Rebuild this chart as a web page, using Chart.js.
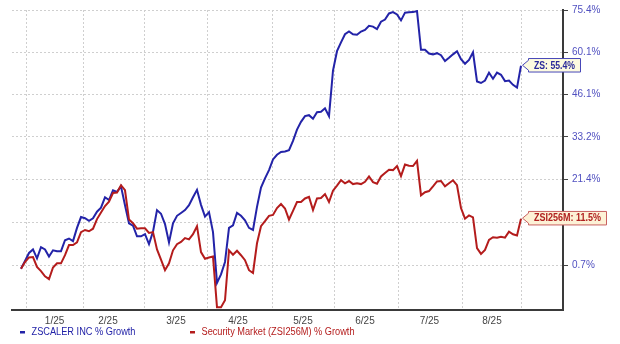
<!DOCTYPE html>
<html>
<head>
<meta charset="utf-8">
<script src="https://cdn.jsdelivr.net/npm/chart.js@4.4.1/dist/chart.umd.min.js"></script>
<style>
  html, body { margin: 0; padding: 0; background: #fff; }
  canvas { display: block; }
</style>
</head>
<body>
<canvas id="chart" width="620" height="344"></canvas>
<script>
// % growth since start, sampled at even steps from late Dec to end of Aug
const zsPct = [
  0.0, 1.7, 3.5, 4.3, 2.3, 4.8, 4.3, 2.7, 4.1, 3.9,
  3.9, 6.4, 6.8, 6.2, 9.3, 11.9, 11.6, 11.0, 11.6, 13.2,
  14.2, 16.8, 16.1, 18.6, 18.2, 19.6, 14.8, 10.4, 9.8, 7.3,
  7.3, 7.8, 5.5, 8.4, 13.6, 12.7, 10.2, 5.9, 10.4, 12.2,
  12.9, 13.6, 14.8, 16.8, 18.7, 14.9, 12.0, 13.1, 8.3, -3.0,
  -1.2, 1.5, 9.3, 9.9, 12.9, 12.2, 11.1, 9.3, 8.8, 14.4,
  19.3, 21.7, 23.9, 26.8, 28.1, 28.9, 29.0, 29.4, 32.0, 35.3,
  37.6, 39.3, 39.6, 38.5, 40.5, 40.6, 41.7, 39.3, 53.8, 60.4,
  63.5, 66.4, 67.4, 66.4, 66.2, 67.4, 68.0, 69.5, 69.2, 68.3,
  71.0, 71.8, 74.1, 74.6, 73.7, 71.5, 74.4, 74.5, 74.6, 75.0,
  60.9, 60.9, 59.6, 59.3, 59.7, 59.0, 57.0, 58.1, 59.3, 60.4,
  57.6, 56.1, 57.4, 60.0, 50.2, 49.7, 50.5, 53.1, 51.1, 53.1,
  52.4, 50.3, 50.5, 49.1, 48.2, 55.4
];
const secPct = [
  0.0, 1.5, 2.5, 2.6, 0.4, -0.5, -1.6, -2.2, 0.3, 1.2,
  1.2, 3.0, 5.3, 5.3, 5.9, 8.3, 8.8, 8.5, 9.1, 11.4,
  13.0, 14.6, 15.7, 17.9, 18.0, 19.9, 18.6, 11.3, 10.4, 9.1,
  9.2, 9.2, 8.1, 8.3, 4.3, 2.0, -0.3, 1.2, 4.1, 5.5,
  6.0, 6.9, 6.6, 7.8, 9.7, 3.7, 2.2, 2.5, 2.7, -8.0,
  -8.0, -6.6, 4.1, 3.1, 4.0, 3.0, 1.9, -0.3, -0.9, 5.7,
  9.7, 10.9, 12.2, 12.4, 14.1, 15.1, 14.0, 11.3, 13.4, 15.6,
  15.6, 16.5, 16.9, 13.6, 16.5, 16.6, 17.6, 15.6, 18.5, 19.8,
  21.2, 20.4, 21.0, 20.2, 20.4, 20.2, 20.8, 22.2, 20.7, 20.3,
  22.2, 23.1, 24.0, 23.9, 25.0, 22.3, 25.4, 25.1, 25.0, 26.4,
  17.3, 18.1, 18.4, 19.6, 20.9, 21.0, 19.6, 20.4, 21.2, 19.9,
  14.1, 11.5, 12.3, 11.8, 4.6, 3.3, 4.2, 6.5, 7.1, 7.0,
  7.2, 7.0, 8.4, 7.8, 7.5, 11.5
];

const seriesNames = ["ZSCALER INC % Growth", "Security Market (ZSI256M) % Growth"];
const endTags = ["ZS", "ZSI256M"];

const monthLabels = ["1/25", "2/25", "3/25", "4/25", "5/25", "6/25", "7/25", "8/25"];
const monthLabelIdx = [8.4, 21.75, 38.75, 54.25, 70.5, 86, 102.1, 117.75];
const monthGridIdx = [1.25, 15.5, 30.75, 46.5, 62.75, 78.25, 94.25, 110.25, 125];

const yTickPct = [0.7, 10.7, 21.4, 33.2, 46.1, 60.1, 75.4];
const yMinPct = -8.55;
const yMaxPct = 75.4;

const BLUE = "#2323a8";
const RED = "#b41c1c";
const FONT = "'Liberation Sans', Arial, sans-serif";

const toRatio = p => 1 + p / 100;
const idx = zsPct.map((_, i) => i);

const endLabels = {
  id: "endLabels",
  afterDraw(chart) {
    const ctx = chart.ctx;
    const boxes = [
      { ds: 0, fill: "#fdfbe0", stroke: "#4848b8", text: "#2a2a9a", w: 41 },
      { ds: 1, fill: "#fdf1d6", stroke: "#c86060", text: "#b02020", w: 67 }
    ];
    boxes.forEach(b => {
      const pts = chart.getDatasetMeta(b.ds).data;
      const pt = pts[pts.length - 1];
      const data = chart.data.datasets[b.ds].data;
      const val = data[data.length - 1];
      const label = endTags[b.ds] + ": " + ((val - 1) * 100).toFixed(1) + "%";
      const tipX = pt.x + 1.5, cy = pt.y - 0.5;
      const x0 = tipX + 6, x1 = x0 + b.w + 11, h = 13.5;
      ctx.save();
      ctx.beginPath();
      ctx.moveTo(tipX, cy);
      ctx.lineTo(x0, cy - 5);
      ctx.lineTo(x0, cy - h / 2);
      ctx.lineTo(x1, cy - h / 2);
      ctx.lineTo(x1, cy + h / 2);
      ctx.lineTo(x0, cy + h / 2);
      ctx.lineTo(x0, cy + 5);
      ctx.closePath();
      ctx.fillStyle = b.fill;
      ctx.fill();
      ctx.lineWidth = 1;
      ctx.strokeStyle = b.stroke;
      ctx.stroke();
      ctx.fillStyle = b.text;
      ctx.font = "bold 10px " + FONT;
      ctx.textAlign = "center";
      ctx.textBaseline = "middle";
      ctx.fillText(label, (x0 + x1) / 2, cy + 0.5, b.w);
      ctx.restore();
    });

    // legend below the axis
    const items = [
      { x: 20, color: BLUE, w: 104 },
      { x: 190, color: RED, w: 153 }
    ];
    ctx.save();
    ctx.font = "10px " + FONT;
    ctx.textBaseline = "middle";
    ctx.textAlign = "left";
    items.forEach((it, i) => {
      ctx.fillStyle = it.color;
      ctx.fillRect(it.x, 331, 5, 2.5);
      ctx.fillText(seriesNames[i], it.x + 11.5, 332, it.w);
    });
    ctx.restore();
  }
};

const ctx = document.getElementById("chart").getContext("2d");
new Chart(ctx, {
  type: "line",
  data: {
    labels: idx,
    datasets: [
      {
        label: seriesNames[0],
        data: zsPct.map(toRatio),
        borderColor: BLUE,
        borderWidth: 2,
        pointRadius: 0,
        tension: 0,
        fill: false,
        order: 1
      },
      {
        label: seriesNames[1],
        data: secPct.map(toRatio),
        borderColor: RED,
        borderWidth: 2,
        pointRadius: 0,
        tension: 0,
        fill: false,
        order: 0
      }
    ]
  },
  options: {
    responsive: false,
    animation: false,
    devicePixelRatio: 1,
    layout: { padding: { left: 12, top: 9.5, right: 0, bottom: 0 } },
    plugins: {
      legend: { display: false },
      tooltip: { enabled: false }
    },
    scales: {
      x: {
        type: "linear",
        min: -2.25,
        max: 135.5,
        afterBuildTicks: s => {
          s.ticks = [...monthGridIdx, ...monthLabelIdx].sort((a, b) => a - b).map(v => ({ value: v }));
        },
        afterFit: s => { s.height = 34; },
        grid: {
          color: c => (c.tick && monthGridIdx.includes(c.tick.value)) ? "#cfcfcf" : "rgba(0,0,0,0)",
          lineWidth: 1,
          drawTicks: false
        },
        border: { display: true, color: "#3a3a3a", width: 2, dash: [2, 2] },
        ticks: {
          autoSkip: false,
          maxRotation: 0,
          padding: 5,
          color: "#444",
          font: { size: 10, family: FONT },
          callback: v => {
            const k = monthLabelIdx.indexOf(v);
            return k < 0 ? "" : monthLabels[k];
          }
        }
      },
      y: {
        type: "logarithmic",
        position: "right",
        min: toRatio(yMinPct),
        max: toRatio(yMaxPct),
        afterBuildTicks: s => {
          s.ticks = yTickPct.map(p => ({ value: toRatio(p) }));
        },
        afterFit: s => { s.width = 57; },
        grid: {
          color: "#cfcfcf",
          lineWidth: 1,
          tickLength: 5,
          tickColor: "#444",
          tickWidth: 1,
          tickBorderDash: []
        },
        border: { display: true, color: "#3a3a3a", width: 2, dash: [2, 2] },
        ticks: {
          padding: 4,
          color: "#5050c0",
          font: { size: 10, family: FONT },
          callback: v => ((v - 1) * 100).toFixed(1) + "%"
        }
      }
    }
  },
  plugins: [endLabels]
});
</script>
</body>
</html>
